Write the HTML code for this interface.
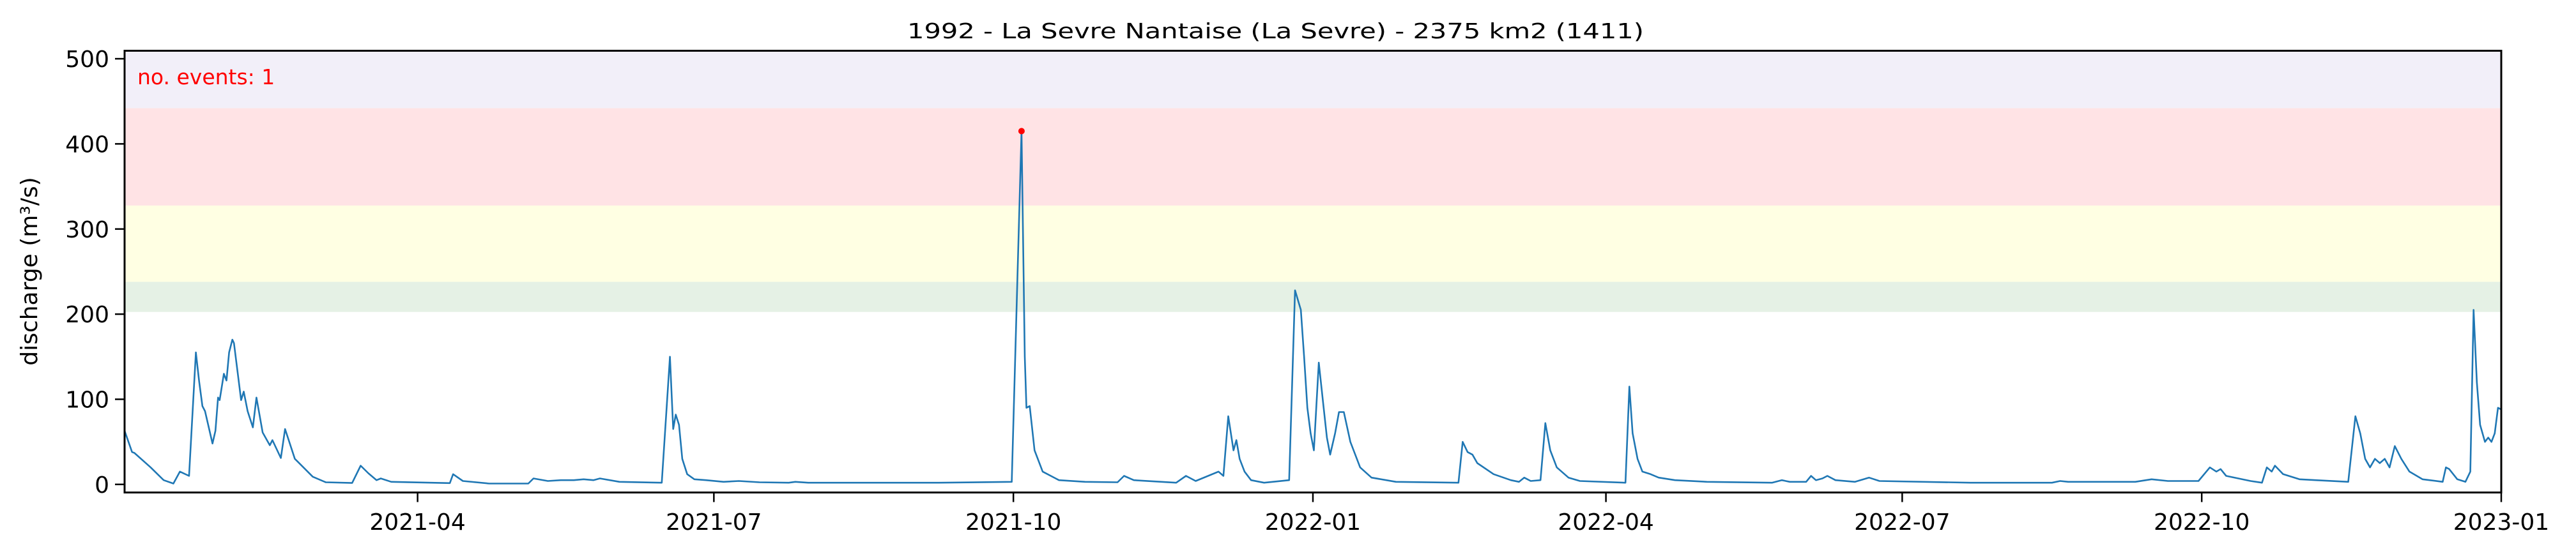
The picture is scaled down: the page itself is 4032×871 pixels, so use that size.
<!DOCTYPE html>
<html><head><meta charset="utf-8"><style>
html,body{margin:0;padding:0;background:#fff;}
svg{display:block;font-family:"DejaVu Sans","Liberation Sans",sans-serif;}
</style></head><body>
<svg id="chart" width="4032" height="871" viewBox="0 0 4032 871" xmlns="http://www.w3.org/2000/svg">
<g id="bands"></g>
<g id="plot"></g>
<g id="axes"></g>
</svg>
<script>
// data: days since 2021-01-01 and discharge (m3/s)
const days = [0,2.3,3,8,12,15,17,19.8,21.9,22.9,23.9,24.7,27,27.9,28.7,29.2,30.5,31.3,32.1,33.1,33.6,35.8,36.6,37.8,39.4,40.5,42.4,44.6,45.4,48,49.3,52.3,53.1,57.8,61.8,69.9,72.5,74.9,77.4,78.7,81.9,99.9,100.9,103.9,112,
124,125.6,130,134,138,141,144,146,152,165,167.5,168.5,169.3,170.3,171.3,172.8,175,178.6,184,188.7,195,204,206,210,250,272.5,275.5,276.5,277,278,279.5,282,287,295,305,307,310,323,326,329,336,337.5,339,340.6,341.5,342.5,344,346,350,357.7,359.5,361.3,362.3,363.3,364.3,365.3,366.8,368.3,369.3,370.3,371.8,373,374.5,376.5,379.5,383,390.5,409.7,411,412.5,414,415.5,420.5,425.8,428.3,429.9,431.9,434.9,436.4,437.9,439.9,443.5,447,461,462.2,463.2,464.7,466.2,468.7,471.2,476.2,486,506,509,511.5,516.5,518,519.5,521.5,523,525.5,531.5,535.8,539,567,592,594.5,597,617.6,622.6,627.6,637,640.5,642.5,643.8,645.5,653,656.5,658,659.5,660.5,663,668,673,683,685.2,686.7,688.2,689.7,691.2,692.7,694.2,695.7,697.3,699.3,701.8,705.8,712,713,714,716.5,719,720.5,721.5,722.5,723.5,725,726,727,728,729,730];
const flows = [63,38,37,20,5,1,15,10,155,121,92,86,48,63,102,99,130,122,155,170,166,99,109,86,67,102,61,46,52,31,65,30,27,9,2.5,1.7,22,13,5,7,3,1.5,12,4,1,
1,7,4,5,5,6,5,7,3,2,150,65,82,70,30,12,6,5,3,4,2.5,2,3,2,2,3,415,150,90,92,40,15,5,3,2.5,10,5,2,10,4,15,10,80,40,52,30,15,5,2,5,228,205,150,90,60,40,143,90,55,35,60,85,85,50,20,8,3,2,50,38,35,25,12,5,3,8,4,5,72,40,20,8,4,2,115,60,30,15,12,8,5,3,2,5,3,3,10,5,7,10,5,3,8,4,2,2,4,3,3,6,4,4,20,15,18,10,4,2,20,15,22,12,6,5,3,80,60,30,20,30,25,30,20,45,30,15,6,3,20,18,6,3,15,205,120,70,50,55,50,60,90,88];
const bandLower = [202.6,238,327.6,442];
const bandUpper = [238,327.6,442,520];
const bandColors = ["#e5f1e5","#ffffe3","#ffe3e5","#f2eff9"];
const yTicks = [0,100,200,300,400,500];
const xTickDays = [90,181,273,365,455,546,638,730];
const xTickLabels = ["2021-04","2021-07","2021-10","2022-01","2022-04","2022-07","2022-10","2023-01"];
const eventDays = [275.5];
const eventFlows = [415];

const NS="http://www.w3.org/2000/svg";
const L=195,R=3915,T=79.5,B=771.5,D0=0,D1=730,Y0=-9.5,Y1=509.4;
function sx(d){return L+(d-D0)/(D1-D0)*(R-L);}
function sy(v){return B-(v-Y0)/(Y1-Y0)*(B-T);}
function mk(tag,attrs,parent){const e=document.createElementNS(NS,tag);for(const k in attrs)e.setAttribute(k,attrs[k]);parent.appendChild(e);return e;}
const bands=document.getElementById('bands'),plot=document.getElementById('plot'),axes=document.getElementById('axes');

for(let i=0;i<bandLower.length;i++){
  const top=Math.max(sy(bandUpper[i]),T);
  const r=mk('rect',{x:L,y:top,width:R-L,height:sy(bandLower[i])-top,fill:bandColors[i]},bands);
  
  
}
let d='';
for(let i=0;i<days.length;i++){d+=(i?'L':'M')+sx(days[i]).toFixed(1)+','+sy(flows[i]).toFixed(1);}
const line=mk('path',{d:d,fill:'none',stroke:'#1f77b4','stroke-width':2.6,'stroke-linejoin':'round'},plot);


for(let i=0;i<eventDays.length;i++){
  const c=mk('circle',{cx:sx(eventDays[i]),cy:sy(eventFlows[i]),r:5,fill:'red'},plot);
  
  
}
const frame=mk('rect',{x:L,y:T,width:R-L,height:B-T,fill:'none',stroke:'#000','stroke-width':3},axes);


for(const v of yTicks){
  const y=sy(v);
  const t=mk('line',{x1:L-15,x2:L,y1:y,y2:y,stroke:'#000','stroke-width':2.5},axes);
  
  
  const tx=mk('text',{x:L-24,y:y+13,'text-anchor':'end','font-size':36,fill:'#000'},axes);
  tx.textContent=v;
  
  
}
for(let i=0;i<xTickDays.length;i++){
  const x=sx(xTickDays[i]);
  const t=mk('line',{x1:x,x2:x,y1:B,y2:B+15,stroke:'#000','stroke-width':2.5},axes);
  
  
  const tx=mk('text',{x:x,y:830,'text-anchor':'middle','font-size':36,fill:'#000'},axes);
  tx.textContent=xTickLabels[i];
  
  
}
const yl=mk('text',{x:0,y:0,transform:'translate(58,425) rotate(-90)','text-anchor':'middle','font-size':36,fill:'#000'},axes);
yl.textContent='discharge (m³/s)';


const ti=mk('text',{x:1420,y:60,'font-size':33,fill:'#000',textLength:1153,lengthAdjust:'spacingAndGlyphs'},axes);
ti.textContent='1992 - La Sevre Nantaise (La Sevre) - 2375 km2 (1411)';


const ev=mk('text',{x:215,y:132,'font-size':33,fill:'red'},axes);
ev.textContent='no. events: 1';


</script>
</body></html>
